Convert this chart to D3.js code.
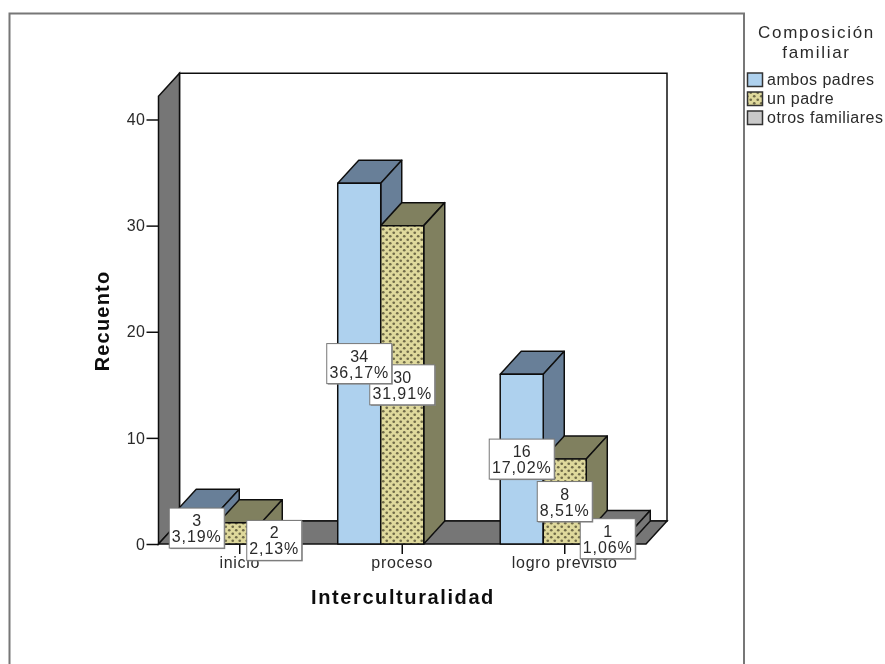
<!DOCTYPE html>
<html><head><meta charset="utf-8">
<script src="https://cdn.jsdelivr.net/npm/d3@7"></script>
<style>
html,body{margin:0;padding:0;background:#fff}
svg{display:block}
text{font-family:"Liberation Sans",Arial,sans-serif;fill:#2a2a2a}
</style></head><body>
<svg id="c" width="885" height="664"></svg>
<script>
const categories = ["inicio","proceso","logro previsto"];
const seriesNames = ["ambos padres","un padre","otros familiares"];
const counts = {
  "ambos padres":[3,34,16],
  "un padre":[2,30,8],
  "otros familiares":[0,0,1]
};
const percents = {
  "ambos padres":["3,19%","36,17%","17,02%"],
  "un padre":["2,13%","31,91%","8,51%"],
  "otros familiares":["","","1,06%"]
};
const yTicks = [0,10,20,30,40];
const frontFill = {"ambos padres":"#aed1ee","un padre":"url(#dots)","otros familiares":"#c9c9c9"};
const sideFill = {"ambos padres":"#687f98","un padre":"#80805f","otros familiares":"#767676"};

const root = d3.select("#c");
const defs = root.append("defs");
const p = defs.append("pattern").attr("id","dots").attr("width",7).attr("height",7).attr("patternUnits","userSpaceOnUse");
p.append("rect").attr("width",7).attr("height",7).attr("fill","#dfd99c");
p.append("circle").attr("cx",1.75).attr("cy",1.75).attr("r",1.35).attr("fill","#6f6b48");
p.append("circle").attr("cx",5.25).attr("cy",5.25).attr("r",1.35).attr("fill","#6f6b48");
defs.append("filter").attr("id","soft").attr("filterUnits","userSpaceOnUse")
  .attr("x",0).attr("y",0).attr("width",885).attr("height",664)
  .append("feGaussianBlur").attr("stdDeviation",0.4);
const svg = root.append("g").attr("filter","url(#soft)");

const DX = 21, DY = -23;
const x = d3.scaleBand().domain(categories).range([158.5,646]).paddingInner(0.206).paddingOuter(0.103);
const xs = d3.scaleBand().domain(seriesNames).range([0,x.bandwidth()]);
const y = d3.scaleLinear().domain([0,40]).range([544,119.5]);
const y0 = y(0), yTop = y(42.2), xL = x.range()[0], xR = x.range()[1];
const line = "#111";
const font = '"Liberation Sans",Arial,sans-serif';

svg.append("rect").attr("width",885).attr("height",664).attr("fill","#fff");
// frame
svg.append("path").attr("d","M9.5,664V13.5H744V664").attr("fill","none").attr("stroke","#777").attr("stroke-width",2);

// walls
const poly = pts => "M"+pts.map(p=>p.join(",")).join("L")+"Z";
svg.append("path").attr("d",poly([[xL+DX,yTop+DY],[xR+DX,yTop+DY],[xR+DX,y0+DY],[xL+DX,y0+DY]])).attr("fill","#fff").attr("stroke",line).attr("stroke-width",1.5);
svg.append("path").attr("d",poly([[xL,yTop],[xL+DX,yTop+DY],[xL+DX,y0+DY],[xL,y0]])).attr("fill","#767676").attr("stroke",line).attr("stroke-width",1.5);
svg.append("path").attr("d",poly([[xL,y0],[xL+DX,y0+DY],[xR+DX,y0+DY],[xR,y0]])).attr("fill","#767676").attr("stroke",line).attr("stroke-width",1.5);

// bars
categories.forEach((c,i)=>{
  seriesNames.forEach(s=>{
    const v = counts[s][i];
    if(!v) return;
    const a = x(c)+xs(s), b = a+xs.bandwidth(), t = y(v);
    const g = svg.append("g").attr("stroke",line).attr("stroke-width",1.5).attr("stroke-linejoin","round");
    g.append("path").attr("d",poly([[a,t],[a+DX,t+DY],[b+DX,t+DY],[b,t]])).attr("fill",sideFill[s]);
    g.append("path").attr("d",poly([[b,t],[b+DX,t+DY],[b+DX,y0+DY],[b,y0]])).attr("fill",sideFill[s]);
    g.append("path").attr("d",poly([[a,t],[b,t],[b,y0],[a,y0]])).attr("fill",frontFill[s]);
  });
});

// axes
const yAxis = svg.append("g").attr("transform",`translate(${xL},0)`).call(d3.axisLeft(y).tickValues(yTicks).tickSize(12).tickPadding(1));
yAxis.select(".domain").remove();
yAxis.selectAll("line").attr("stroke",line).attr("stroke-width",1.5);
yAxis.selectAll("text").attr("font-size",16).attr("font-family",font).attr("letter-spacing",0.5).attr("fill","#2a2a2a");
const xAxis = svg.append("g").attr("transform",`translate(0,${y0})`).call(d3.axisBottom(x).tickSize(10).tickPadding(3));
xAxis.select(".domain").remove();
xAxis.selectAll("line").attr("stroke",line).attr("stroke-width",1.5);
xAxis.selectAll("text").attr("font-size",16).attr("font-family",font).attr("letter-spacing",0.7).attr("fill","#2a2a2a");

// data labels: later series sit underneath earlier ones
const labelNudge = {"un padre|inicio":[34.5,7]};
seriesNames.slice().reverse().forEach(s=>{
  categories.forEach((c,i)=>{
    const v = counts[s][i];
    if(!v) return;
    const n = labelNudge[s+"|"+c]||[0,0];
    const cx = x(c)+xs(s)+xs.bandwidth()/2+n[0], cy = (y(v)+y0)/2+n[1];
    const w = percents[s][i].length>5?65:55, h=40;
    const g = svg.append("g");
    g.append("rect").attr("x",cx-w/2+1).attr("y",cy-h/2+1).attr("width",w).attr("height",h).attr("fill","#888");
    g.append("rect").attr("x",cx-w/2).attr("y",cy-h/2).attr("width",w).attr("height",h).attr("fill","#fff").attr("stroke","#777").attr("stroke-width",1);
    g.append("text").attr("x",cx).attr("y",cy-2).attr("text-anchor","middle").attr("font-size",16).text(v);
    g.append("text").attr("x",cx).attr("y",cy+14).attr("text-anchor","middle").attr("font-size",16).attr("letter-spacing",0.9).text(percents[s][i]);
  });
});

// titles
svg.append("text").attr("x",403).attr("y",604).attr("text-anchor","middle").attr("font-size",20).attr("font-weight","bold").attr("letter-spacing",1.6).style("fill","#111").text("Interculturalidad");
svg.append("text").attr("transform","translate(109,321) rotate(-90)").attr("text-anchor","middle").attr("font-size",20).attr("font-weight","bold").attr("letter-spacing",1.2).style("fill","#111").text("Recuento");

// legend
svg.append("text").attr("x",816.5).attr("y",38).attr("text-anchor","middle").attr("font-size",17).attr("letter-spacing",1.7).text("Composición");
svg.append("text").attr("x",816.5).attr("y",58).attr("text-anchor","middle").attr("font-size",17).attr("letter-spacing",1.7).text("familiar");
const legendY = d3.scalePoint().domain(seriesNames).range([80,118]);
seriesNames.forEach(s=>{
  svg.append("rect").attr("x",747.5).attr("y",legendY(s)-7).attr("width",15).attr("height",13.5).attr("fill",frontFill[s]).attr("stroke","#333").attr("stroke-width",1.5);
  svg.append("text").attr("x",767).attr("y",legendY(s)+5).attr("font-size",16).attr("letter-spacing",0.5).text(s);
});
</script>
</body></html>
